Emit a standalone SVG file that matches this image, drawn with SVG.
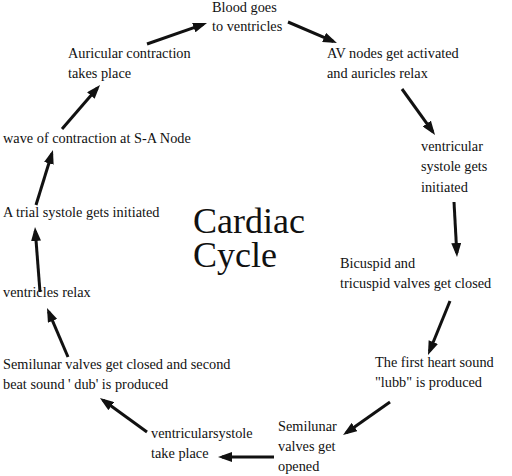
<svg xmlns="http://www.w3.org/2000/svg" width="512" height="476" viewBox="0 0 512 476">
<style>
text{font-family:'Liberation Serif',serif;font-size:14.3px;fill:#111}
.title{font-size:36px}
</style>
<defs>
<marker id="ah" markerUnits="userSpaceOnUse" markerWidth="14" markerHeight="10" refX="10" refY="5" orient="auto"><path d="M0,0 L14,5 L0,10 z" fill="#111"/></marker>
</defs>
<rect width="512" height="476" fill="#fff"/>
<g id="title"><text class="title" x="193" y="233">Cardiac</text><text class="title" x="193" y="267">Cycle</text></g>
<g id="n1"><text x="212" y="12">Blood goes</text><text x="212" y="31">to ventricles</text></g>
<g id="n2"><text x="327" y="58">AV nodes get activated</text><text x="327" y="78">and auricles relax</text></g>
<g id="n3"><text x="421" y="151">ventricular</text><text x="421" y="171">systole gets</text><text x="421" y="192">initiated</text></g>
<g id="n4"><text x="340" y="268">Bicuspid and</text><text x="340" y="288">tricuspid valves get closed</text></g>
<g id="n5"><text x="375" y="367">The first heart sound</text><text x="375" y="387">"lubb" is produced</text></g>
<g id="n6"><text x="278" y="431">Semilunar</text><text x="278" y="451">valves get</text><text x="278" y="471">opened</text></g>
<g id="n7"><text x="151" y="438">ventricularsystole</text><text x="151" y="458">take place</text></g>
<g id="n8"><text x="3" y="369">Semilunar valves get closed and second</text><text x="3" y="389">beat sound ' dub' is produced</text></g>
<g id="n9"><text x="3" y="297">ventricles relax</text></g>
<g id="n10"><text x="3" y="217">A trial systole gets initiated</text></g>
<g id="n11"><text x="3" y="143">wave of contraction at S-A Node</text></g>
<g id="n12"><text x="68" y="58">Auricular contraction</text><text x="68" y="78">takes place</text></g>
<g id="connectors" stroke="#111" stroke-width="3" marker-end="url(#ah)">
<line x1="147" y1="44" x2="203.2" y2="24.3"/>
<line x1="288" y1="22" x2="333.3" y2="41.4"/>
<line x1="402" y1="89" x2="432.7" y2="131.7"/>
<line x1="454" y1="202" x2="456.8" y2="253"/>
<line x1="450" y1="301" x2="429.5" y2="351.3"/>
<line x1="390" y1="402" x2="346.3" y2="432.7"/>
<line x1="274" y1="457" x2="222" y2="457"/>
<line x1="147" y1="432" x2="103.2" y2="400.3"/>
<line x1="68" y1="357" x2="48.6" y2="311.7"/>
<line x1="40" y1="292" x2="35.3" y2="231"/>
<line x1="36" y1="205" x2="51.8" y2="153.8"/>
<line x1="62" y1="129" x2="97.4" y2="88"/>
</g>
</svg>
